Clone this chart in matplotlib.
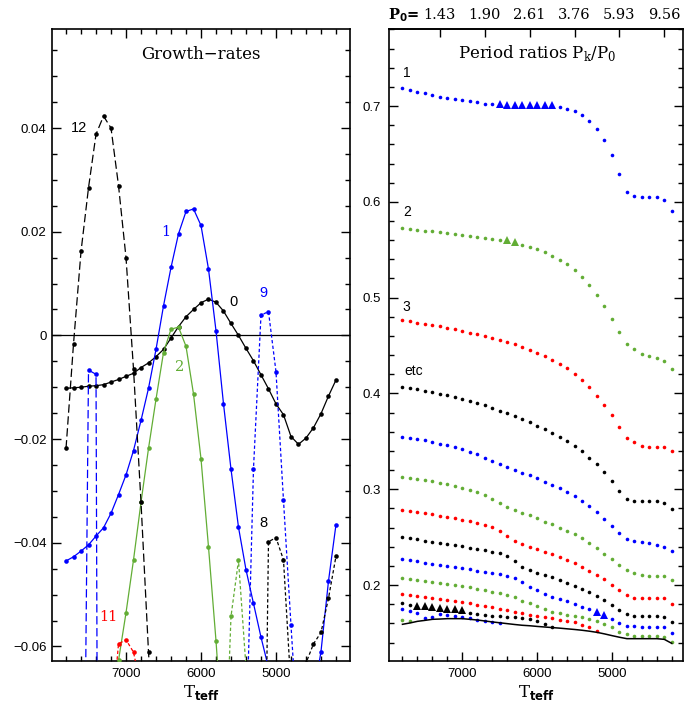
#!/usr/bin/env python3
"""
Growth rates (left) and period ratios Pk/P0 (right) along a model sequence.
"""

import numpy as np
import matplotlib
matplotlib.use("Agg")
import matplotlib.pyplot as plt
from matplotlib.ticker import MultipleLocator, FuncFormatter

# model sequence, effective temperature (K)
T_TEFF = [7800, 7700, 7600, 7500, 7400, 7300, 7200, 7100, 7000, 6900,
          6800, 6700, 6600, 6500, 6400, 6300, 6200, 6100, 6000, 5900,
          5800, 5700, 5600, 5500, 5400, 5300, 5200, 5100, 5000, 4900,
          4800, 4700, 4600, 4500, 4400, 4300, 4200]

# fundamental period along the top axis
P0_TEFF = [7300, 6700, 6100, 5500, 4900, 4300]
P0_LABELS = ['1.43', '1.90', '2.61', '3.76', '5.93', '9.56']

# growth rates per mode (None = mode not computed)
MODE0_GR = [-0.0102, -0.0101, -0.0100, -0.0098, -0.0097, -0.0095, -0.0090, -0.0085, -0.0079, -0.0073,
            -0.0062, -0.0053, -0.0041, -0.0027, -0.0005, 0.0017, 0.0036, 0.0050, 0.0063, 0.0070,
            0.0064, 0.0047, 0.0023, 0.0000, -0.0025, -0.0049, -0.0076, -0.0103, -0.0132, -0.0153,
            -0.0195, -0.0210, -0.0198, -0.0178, -0.0151, -0.0117, -0.0086]
MODE1_GR = [-0.0435, -0.0427, -0.0416, -0.0404, -0.0387, -0.0371, -0.0343, -0.0307, -0.0269, -0.0222,
            -0.0164, -0.0102, -0.0027, 0.0057, 0.0131, 0.0196, 0.0239, 0.0244, 0.0212, 0.0128,
            0.0009, -0.0132, -0.0258, -0.0370, -0.0452, -0.0517, -0.0582, -0.0641, -0.0680, -0.0720,
            -0.0750, -0.0760, -0.0750, -0.0695, -0.0610, -0.0474, -0.0365]
MODE2_GR = [None] * 7 + [-0.0627, -0.0535, -0.0433, -0.0322, -0.0218, -0.0123, -0.0033, 0.0012,
                         0.0016, -0.0021, -0.0113, -0.0238, -0.0408, -0.0589, -0.0800] + [None] * 15
MODE8_GR = [None] * 26 + [-0.1480, -0.0398, -0.0390, -0.0433, -0.0680, -0.0760, -0.0632, -0.0595,
                          -0.0573, -0.0507, -0.0426]
MODE9_GR = [None] * 24 + [-0.0800, -0.0257, 0.0039, 0.0046, -0.0070, -0.0318, -0.0559, -0.0790] + [None] * 5
MODE10_GR = [None] * 21 + [-0.0930, -0.0542, -0.0434, -0.0640] + [None] * 12
MODE11_GR = [None] * 6 + [-0.0755, -0.0595, -0.0587, -0.0611, -0.0680] + [None] * 26
MODE12_GR = [-0.0218, -0.0016, 0.0162, 0.0285, 0.0388, 0.0423, 0.0400, 0.0289, 0.0150, -0.0065,
             -0.0322, -0.0611, -0.0850] + [None] * 24
MODE13_GR = [None] * 2 + [-0.1600, -0.0067, -0.0075, -0.4200] + [None] * 31

# period ratios Pk/P0, modes 1..14
RATIO_1 = [0.7185, 0.7170, 0.7150, 0.7133, 0.7115, 0.7097, 0.7087, 0.7073, 0.7063, 0.7049,
           0.7038, 0.7024, 0.7020, 0.7016, 0.7014, 0.7012, 0.7011, 0.7010, 0.7009, 0.7008,
           0.7006, 0.6986, 0.6969, 0.6948, 0.6906, 0.6843, 0.6763, 0.6645, 0.6492, 0.6293,
           0.6105, 0.6064, 0.6050, 0.6050, 0.6047, 0.6016, 0.5907]
RATIO_2 = [0.5727, 0.5713, 0.5706, 0.5700, 0.5692, 0.5682, 0.5674, 0.5660, 0.5650, 0.5640,
           0.5630, 0.5625, 0.5609, 0.5603, 0.5598, 0.5581, 0.5553, 0.5531, 0.5507, 0.5476,
           0.5438, 0.5396, 0.5348, 0.5291, 0.5215, 0.5132, 0.5027, 0.4909, 0.4777, 0.4641,
           0.4519, 0.4463, 0.4414, 0.4387, 0.4370, 0.4338, 0.4255]
RATIO_3 = [0.4767, 0.4753, 0.4739, 0.4725, 0.4714, 0.4700, 0.4687, 0.4669, 0.4652, 0.4634,
           0.4617, 0.4596, 0.4575, 0.4558, 0.4533, 0.4513, 0.4485, 0.4457, 0.4422, 0.4391,
           0.4349, 0.4307, 0.4262, 0.4203, 0.4137, 0.4064, 0.3977, 0.3883, 0.3778, 0.3653,
           0.3538, 0.3488, 0.3456, 0.3443, 0.3443, 0.3443, 0.3399]
RATIO_4 = [0.4071, 0.4057, 0.4043, 0.4029, 0.4011, 0.3998, 0.3980, 0.3959, 0.3942, 0.3921,
           0.3900, 0.3876, 0.3848, 0.3820, 0.3792, 0.3765, 0.3730, 0.3697, 0.3663, 0.3628,
           0.3590, 0.3548, 0.3505, 0.3453, 0.3398, 0.3329, 0.3260, 0.3176, 0.3082, 0.2981,
           0.2901, 0.2877, 0.2877, 0.2880, 0.2880, 0.2856, 0.2790]
RATIO_5 = [0.3548, 0.3538, 0.3524, 0.3510, 0.3496, 0.3475, 0.3458, 0.3437, 0.3416, 0.3392,
           0.3364, 0.3329, 0.3298, 0.3263, 0.3232, 0.3204, 0.3173, 0.3145, 0.3113, 0.3079,
           0.3044, 0.3009, 0.2971, 0.2929, 0.2880, 0.2825, 0.2758, 0.2689, 0.2616, 0.2543,
           0.2484, 0.2459, 0.2449, 0.2435, 0.2418, 0.2400, 0.2355]
RATIO_6 = [0.3131, 0.3120, 0.3110, 0.3096, 0.3082, 0.3068, 0.3051, 0.3033, 0.3016, 0.2995,
           0.2967, 0.2936, 0.2898, 0.2856, 0.2818, 0.2783, 0.2755, 0.2728, 0.2696, 0.2661,
           0.2633, 0.2598, 0.2564, 0.2532, 0.2491, 0.2442, 0.2383, 0.2327, 0.2271, 0.2212,
           0.2157, 0.2129, 0.2104, 0.2097, 0.2097, 0.2097, 0.2052]
RATIO_7 = [0.2783, 0.2772, 0.2758, 0.2748, 0.2738, 0.2724, 0.2710, 0.2696, 0.2682, 0.2665,
           0.2647, 0.2626, 0.2602, 0.2564, 0.2512, 0.2463, 0.2430, 0.2400, 0.2378, 0.2348,
           0.2324, 0.2292, 0.2261, 0.2226, 0.2184, 0.2146, 0.2104, 0.2059, 0.2000, 0.1948,
           0.1892, 0.1867, 0.1867, 0.1867, 0.1867, 0.1867, 0.1798]
RATIO_8 = [0.2498, 0.2487, 0.2477, 0.2463, 0.2452, 0.2442, 0.2428, 0.2417, 0.2407, 0.2390,
           0.2376, 0.2362, 0.2348, 0.2334, 0.2303, 0.2254, 0.2191, 0.2160, 0.2129, 0.2104,
           0.2080, 0.2052, 0.2024, 0.1993, 0.1962, 0.1923, 0.1885, 0.1843, 0.1791, 0.1739,
           0.1697, 0.1680, 0.1680, 0.1680, 0.1676, 0.1669, 0.1614]
RATIO_9 = [0.2268, 0.2257, 0.2247, 0.2233, 0.2219, 0.2209, 0.2195, 0.2184, 0.2174, 0.2164,
           0.2150, 0.2139, 0.2125, 0.2111, 0.2094, 0.2070, 0.2035, 0.1983, 0.1948, 0.1906,
           0.1878, 0.1857, 0.1833, 0.1798, 0.1774, 0.1750, 0.1718, 0.1684, 0.1642, 0.1603,
           0.1576, 0.1569, 0.1565, 0.1565, 0.1565, 0.1562, 0.1495]
RATIO_10 = [0.2070, 0.2063, 0.2056, 0.2045, 0.2035, 0.2024, 0.2010, 0.2000, 0.1989, 0.1976,
            0.1962, 0.1948, 0.1930, 0.1920, 0.1896, 0.1871, 0.1836, 0.1809, 0.1781, 0.1749,
            0.1722, 0.1704, 0.1687, 0.1680, 0.1666, 0.1645, 0.1624, 0.1589, 0.1558, 0.1513,
            0.1485, 0.1471, 0.1468, 0.1468, 0.1468, 0.1461, 0.1405]
RATIO_11 = [0.1906, 0.1892, 0.1882, 0.1871, 0.1864, 0.1857, 0.1846, 0.1836, 0.1822, 0.1809,
            0.1795, 0.1781, 0.1770, 0.1753, 0.1735, 0.1718, 0.1704, 0.1690, 0.1678, 0.1669,
            0.1659, 0.1635, 0.1624, 0.1610, 0.1583, 0.1558, 0.1520] + [None] * 10
RATIO_12 = [0.1809, 0.1788, 0.1785, 0.1776, 0.1767, 0.1760, 0.1752, 0.1745, 0.1738, 0.1704,
            0.1694, 0.1687, 0.1676, 0.1673, 0.1669, 0.1662, 0.1652, 0.1642, 0.1624, 0.1589,
            0.1562] + [None] * 16
RATIO_13 = [0.1750, 0.1733, 0.1710, 0.1656, 0.1662, 0.1694, 0.1683, 0.1673, 0.1669, 0.1652,
            0.1631, 0.1624, 0.1610, 0.1605] + [None] * 23
RATIO_14 = [0.1635, 0.1624] + [None] * 35

# lower boundary curve in the ratio panel
CUTOFF = [0.1590, 0.1604, 0.1621, 0.1631, 0.1642, 0.1645, 0.1649, 0.1649, 0.1649, 0.1642,
          0.1635, 0.1625, 0.1615, 0.1606, 0.1597, 0.1588, 0.1580, 0.1575, 0.1568, 0.1562,
          0.1556, 0.1550, 0.1543, 0.1536, 0.1528, 0.1518, 0.1506, 0.1490, 0.1472, 0.1455,
          0.1440, 0.1440, 0.1440, 0.1440, 0.1440, 0.1433, 0.1391]

BLUE = '#0000ff'
GREEN = '#62ad35'
RED = '#ff0000'
BLACK = '#000000'
CYCLE = [BLUE, GREEN, RED, BLACK]

LONG_DASH = (0, (6.0, 2.6))
SHORT_DASH = (0, (2.4, 1.7))

GROWTH = {0: MODE0_GR, 1: MODE1_GR, 2: MODE2_GR, 8: MODE8_GR, 9: MODE9_GR,
          10: MODE10_GR, 11: MODE11_GR, 12: MODE12_GR, 13: MODE13_GR}
RATIOS = [RATIO_1, RATIO_2, RATIO_3, RATIO_4, RATIO_5, RATIO_6, RATIO_7,
          RATIO_8, RATIO_9, RATIO_10, RATIO_11, RATIO_12, RATIO_13, RATIO_14]

W, H = 684, 704
SANS = 'Liberation Sans'
SERIF = 'DejaVu Serif'


def frame(ax):
    """Inward ticks on all sides, heavy frame."""
    for s in ax.spines.values():
        s.set_linewidth(1.2)
    ax.tick_params(which='both', direction='in', width=1.0, labelsize=9.5)
    ax.tick_params(which='major', length=6.5)
    ax.tick_params(which='minor', length=3.5)
    for lab in ax.get_xticklabels() + ax.get_yticklabels():
        lab.set_family(SANS)


def plot_growth(ax, T):
    """Left panel: growth rates."""
    styles = [
        (0, BLACK, '-'), (1, BLUE, '-'), (2, GREEN, '-'),
        (12, BLACK, LONG_DASH), (13, BLUE, LONG_DASH),
        (8, BLACK, SHORT_DASH), (9, BLUE, SHORT_DASH),
        (10, GREEN, SHORT_DASH), (11, RED, SHORT_DASH),
    ]
    ax.axhline(0, color='k', lw=0.9, zorder=1)
    for mode, color, ls in styles:
        y = np.array(GROWTH[mode], dtype=float)
        ax.plot(T, y, color=color, ls=ls, lw=0.9, marker='o', ms=3.3,
                mew=0, zorder=3)

    ax.set_xlim(7987, 4013)
    ax.set_ylim(-0.0628, 0.0591)
    ax.xaxis.set_major_locator(MultipleLocator(1000))
    ax.xaxis.set_minor_locator(MultipleLocator(200))
    ax.yaxis.set_major_locator(MultipleLocator(0.02))
    ax.yaxis.set_minor_locator(MultipleLocator(0.005))
    ax.yaxis.set_major_formatter(FuncFormatter(
        lambda v, p: '0' if abs(v) < 1e-9 else f'{v:.2f}'.replace('-', '\u2212')))
    ax.tick_params(top=True, right=True, which='both')
    frame(ax)
    ax.tick_params(axis='y', pad=4)
    ax.tick_params(axis='x', pad=5)

    ax.text(0.5, 0.959, 'Growth\u2212rates', transform=ax.transAxes,
            ha='center', va='center', fontsize=12, family=SERIF)

    labels = [('12', 7627, 0.0400, BLACK, SANS), ('1', 6471, 0.0199, BLUE, SERIF),
              ('0', 5570, 0.0065, BLACK, SANS), ('2', 6280, -0.0061, GREEN, SERIF),
              ('9', 5170, 0.0081, BLUE, SANS), ('8', 5170, -0.0362, BLACK, SANS),
              ('11', 7236, -0.0543, RED, SERIF)]
    for txt, x, y, c, fam in labels:
        ax.text(x, y, txt, color=c, ha='center', va='center', fontsize=10.5, family=fam)

    ax.set_xlabel(r'T$_{\mathbf{teff}}$', family=SERIF, fontsize=12, labelpad=2)


def plot_ratios(ax, T):
    """Right panel: period ratios, triangles where the mode is unstable."""
    for k, ratios in enumerate(RATIOS, start=1):
        color = CYCLE[(k - 1) % 4]
        r = np.array(ratios, dtype=float)
        if k in GROWTH:
            unstable = np.array(GROWTH[k], dtype=float) > 0
        else:
            unstable = np.zeros(len(r), dtype=bool)
        ax.plot(T[~unstable], r[~unstable], 'o', ms=2.6, color=color, mew=0)
        ax.plot(T[unstable], r[unstable], '^', ms=6.2, color=color, mew=0)

    ax.plot(T, CUTOFF, color='k', lw=1.1)

    ax.set_xlim(7980, 4050)
    ax.set_ylim(0.1207, 0.7804)
    ax.xaxis.set_major_locator(MultipleLocator(1000))
    ax.xaxis.set_minor_locator(MultipleLocator(200))
    ax.yaxis.set_major_locator(MultipleLocator(0.1))
    ax.yaxis.set_minor_locator(MultipleLocator(0.02))
    ax.yaxis.set_major_formatter(FuncFormatter(lambda v, p: f'{v:.1f}'))
    ax.tick_params(right=True, which='both')
    frame(ax)
    ax.tick_params(axis='y', pad=6)
    ax.tick_params(axis='x', pad=5)

    top = ax.secondary_xaxis('top')
    top.set_xticks(P0_TEFF, labels=P0_LABELS)
    top.tick_params(direction='in', length=5.5, width=1.0, pad=5, labelsize=10.5)
    for lab in top.get_xticklabels():
        lab.set_family(SERIF)
    top.spines['top'].set_linewidth(1.2)
    ax.text(-0.003, 1.022, r'P$_\mathbf{0}$=', transform=ax.transAxes,
            ha='left', va='center', fontsize=10.5, fontweight='bold', family=SERIF)

    ax.text(0.503, 0.962, r'Period ratios P$_\mathregular{k}$/P$_\mathregular{0}$',
            transform=ax.transAxes, ha='center', va='center', fontsize=12, family=SERIF)

    for txt, x, y in [('1', 7743, 0.7341), ('2', 7743, 0.5894),
                      ('3', 7743, 0.4899), ('etc', 7646, 0.4237)]:
        ax.text(x, y, txt, ha='center', va='center', fontsize=10, family=SANS)

    ax.set_xlabel(r'T$_{\mathbf{teff}}$', family=SERIF, fontsize=12, labelpad=2)


def main():
    plt.rcParams['lines.scale_dashes'] = False
    plt.rcParams['mathtext.fontset'] = 'dejavusans'
    T = np.array(T_TEFF, dtype=float)

    fig = plt.figure(figsize=(W / 100, H / 100), dpi=100)
    bottom = 1 - 661 / H
    height = 632 / H
    ax_gr = fig.add_axes([52 / W, bottom, 298 / W, height])
    ax_pr = fig.add_axes([389 / W, bottom, 294 / W, height])

    plot_growth(ax_gr, T)
    plot_ratios(ax_pr, T)

    fig.savefig('out.png', dpi=100)
    print("Saved: out.png")


if __name__ == '__main__':
    main()
